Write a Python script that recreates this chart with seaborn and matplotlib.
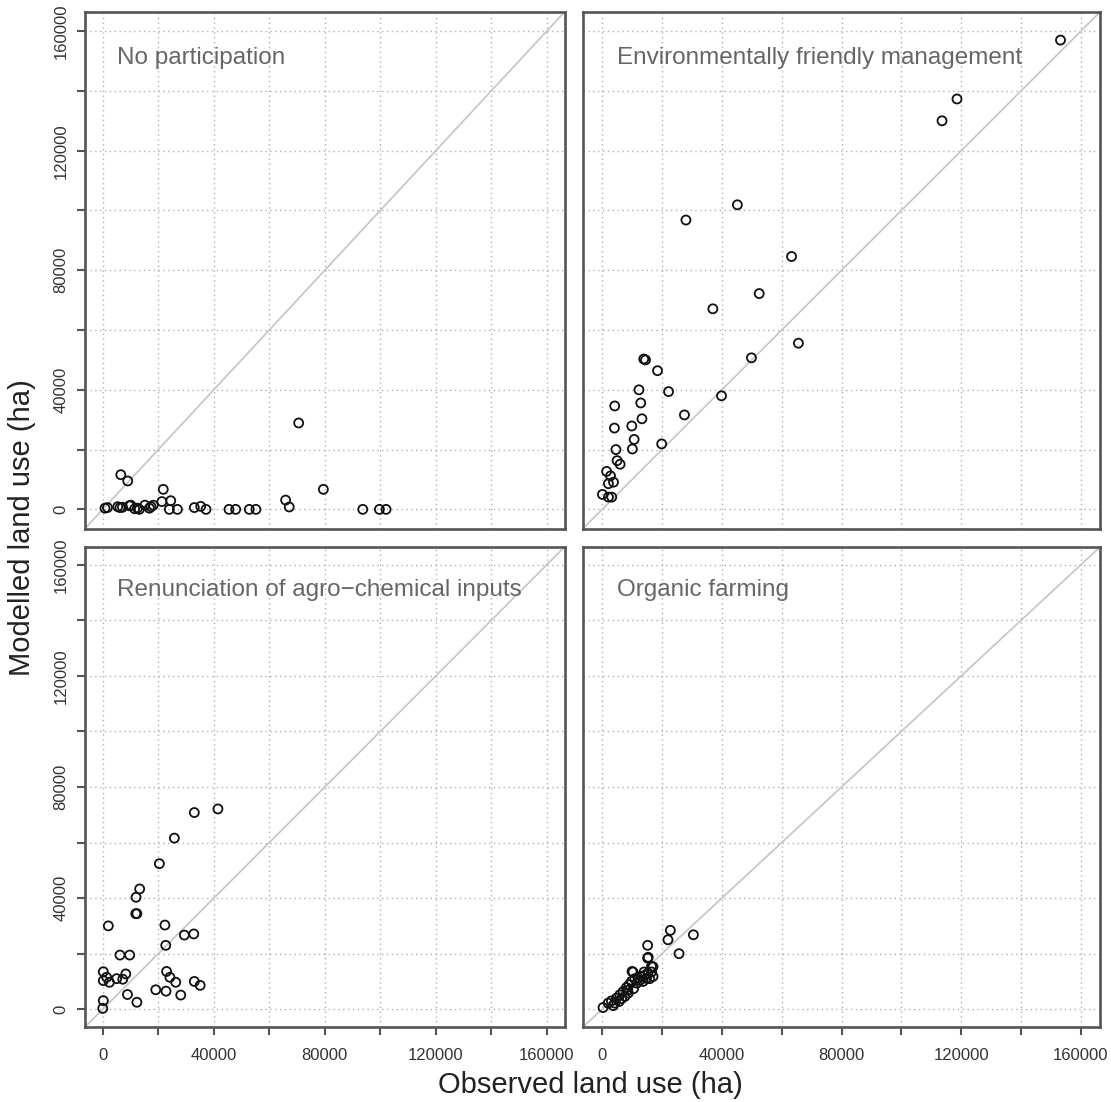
# Observed vs modelled land use, four participation options
import numpy as np
import pandas as pd
import seaborn as sns
import matplotlib
matplotlib.use('Agg')
import matplotlib.pyplot as plt

sns.set_style('white')
plt.rcParams['font.family'] = ['Liberation Sans', 'DejaVu Sans']

# --- data (thousand ha, converted to ha below) ---
panel_titles = ['No participation', 'Environmentally friendly management',
                'Renunciation of agro\u2212chemical inputs', 'Organic farming']

nopart_obs = [0.8, 1.7, 5.4, 6.2, 7.1, 6.5, 9.0, 10.1, 12.5, 13.2, 15.2, 16.8, 17.4, 18.2,
              21.3, 21.8, 24.5, 24.0, 26.9, 33.0, 35.3, 37.2, 45.5, 47.9, 52.8, 55.2,
              65.9, 67.2, 70.6, 79.5, 93.7, 99.7, 102.1, 11.5, 9.6]
nopart_mod = [0.4, 0.6, 0.9, 0.6, 0.7, 11.6, 9.5, 1.4, 0.4, 0.0, 1.4, 0.4, 0.9, 1.4,
              2.6, 6.7, 2.9, 0.0, 0.0, 0.6, 1.0, 0.0, 0.0, 0.0, 0.0, 0.0,
              3.1, 0.8, 28.9, 6.7, 0.0, 0.0, 0.0, 0.2, 1.2]

efm_obs = [45.2, 28.0, 63.3, 52.5, 37.0, 65.6, 49.9, 13.9, 14.5, 18.5, 12.3, 22.2, 39.9,
           4.2, 12.9, 27.5, 13.3, 4.1, 9.9, 10.7, 19.9, 4.6, 10.1, 5.0, 6.0, 1.5, 2.8,
           2.1, 3.8, 0.1, 2.1, 3.2, 113.6, 118.6, 153.2]
efm_mod = [101.9, 96.8, 84.6, 72.2, 67.1, 55.6, 50.7, 50.3, 50.0, 46.4, 40.0, 39.4, 38.0,
           34.6, 35.6, 31.6, 30.3, 27.2, 27.9, 23.4, 21.9, 20.0, 20.2, 16.3, 15.1, 12.7, 11.2,
           8.6, 9.1, 5.0, 4.1, 4.1, 130.0, 137.3, 157.0]

raci_obs = [41.5, 33.0, 25.8, 20.4, 13.3, 12.0, 11.9, 12.3, 2.0, 22.4, 29.4, 32.8, 22.7,
            6.2, 9.7, 0.2, 8.3, 1.4, 0.2, 2.4, 5.0, 7.2, 23.0, 24.2, 26.3, 33.0, 35.1,
            19.1, 22.8, 28.1, 8.9, 12.3, 0.2, 0.0]
raci_mod = [72.1, 70.8, 61.6, 52.4, 43.3, 40.3, 34.4, 34.4, 30.0, 30.3, 26.7, 27.1, 23.0,
            19.5, 19.5, 13.5, 12.7, 11.5, 10.3, 9.7, 11.0, 10.8, 13.6, 11.5, 9.7, 10.0, 8.6,
            7.0, 6.5, 5.1, 5.3, 2.5, 3.1, 0.3]

org_obs = [22.8, 22.0, 30.5, 25.7, 15.2, 15.2, 15.4, 17.0, 10.3, 0.3, 2.0, 3.1, 4.8, 5.9,
           7.0, 8.1, 9.0, 9.8, 10.9, 12.0, 13.1, 14.2, 15.3, 16.5, 10.5, 11.6, 7.6, 6.5,
           8.7, 4.2, 13.7, 15.9, 17.0, 8.6, 5.7, 3.7, 12.6, 14.8, 14.0, 10.0, 16.5]
org_mod = [28.4, 25.0, 26.8, 20.0, 23.0, 18.4, 18.7, 15.3, 13.4, 0.6, 2.2, 3.0, 4.0, 5.2,
           6.4, 7.8, 8.8, 10.0, 11.0, 11.2, 11.8, 12.2, 13.0, 13.4, 7.4, 9.4, 4.6, 3.8,
           5.8, 2.2, 10.0, 11.0, 11.8, 6.8, 2.8, 1.3, 10.4, 11.1, 13.4, 13.6, 15.4]

observed = [nopart_obs, efm_obs, raci_obs, org_obs]
modelled = [nopart_mod, efm_mod, raci_mod, org_mod]

W, H = 1111, 1102
fig = plt.figure(figsize=(W / 100, H / 100), dpi=100)

# panel boxes in pixels: left, right, top, bottom
boxes = [(85, 564.5, 12, 528.5), (583, 1100, 12, 528.5),
         (85, 564.5, 547, 1027), (583, 1100, 547, 1027)]

frame_col = '#555555'
ticks = np.arange(0, 160001, 20000)
labels = [str(t) if t % 40000 == 0 else '' for t in ticks]

for i, (l, r, t, b) in enumerate(boxes):
    ax = fig.add_axes([l / W, 1 - b / H, (r - l) / W, (b - t) / H])
    df = pd.DataFrame({'obs': np.array(observed[i]) * 1000,
                       'mod': np.array(modelled[i]) * 1000})
    ax.set_xlim(-6400, 166400)
    ax.set_ylim(-6400, 166400)
    ax.set_xticks(ticks)
    ax.set_yticks(ticks)
    ax.grid(True, color='#b0b0b0', linestyle=(0, (1, 2.5)), linewidth=1.0)
    ax.set_axisbelow(True)
    ax.plot([-6400, 166400], [-6400, 166400], color='#c8c8c8', lw=1.3, zorder=1)
    sns.scatterplot(data=df, x='obs', y='mod', ax=ax, marker='o', s=42,
                    facecolor='none', edgecolor='#111111', linewidth=1.3, zorder=3)
    ax.set_xlabel('')
    ax.set_ylabel('')
    for sp in ax.spines.values():
        sp.set_color(frame_col)
        sp.set_linewidth(1.9)
    ax.text(5000, 151000, panel_titles[i], fontsize=17.5, color='#666666',
            ha='left', va='center')

    bottom_row = i >= 2
    left_col = i % 2 == 0
    ax.tick_params(axis='x', bottom=bottom_row, labelbottom=bottom_row, direction='out',
                   length=6, width=1.5, color=frame_col, pad=9, labelsize=12,
                   labelcolor='#333333')
    ax.tick_params(axis='y', left=left_col, labelleft=left_col, direction='out',
                   length=6, width=1.5, color=frame_col, pad=6, labelsize=12,
                   labelcolor='#333333')
    ax.set_xticklabels(labels)
    ax.set_yticklabels(labels, rotation=90, va='center')

fig.text(590 / W, 1 - 1085 / H, 'Observed land use (ha)', fontsize=21,
         ha='center', va='center', color='#222222')
fig.text(22 / W, 1 - 528 / H, 'Modelled land use (ha)', fontsize=21,
         ha='center', va='center', rotation=90, color='#222222')

fig.savefig('out.png', dpi=100, facecolor='white')
